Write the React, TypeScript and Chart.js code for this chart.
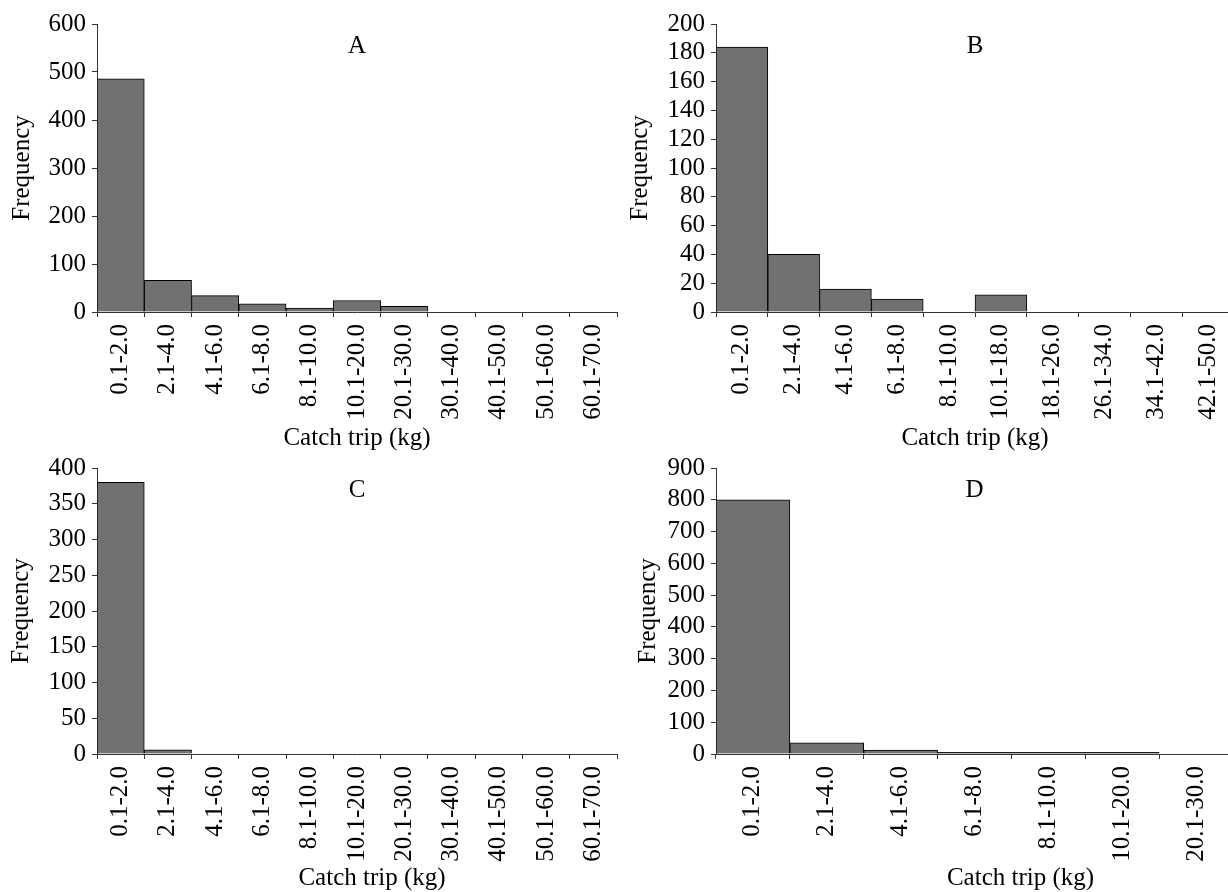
import React, { useEffect, useRef } from 'react';
import { Chart, registerables } from 'chart.js';

Chart.register(...registerables);

// ---------- data ----------
const labelsA = ['0.1-2.0', '2.1-4.0', '4.1-6.0', '6.1-8.0', '8.1-10.0', '10.1-20.0', '20.1-30.0', '30.1-40.0', '40.1-50.0', '50.1-60.0', '60.1-70.0'];
const valuesA = [486, 66, 34, 17, 8, 24, 12, 0, 0, 0, 0];

const labelsB = ['0.1-2.0', '2.1-4.0', '4.1-6.0', '6.1-8.0', '8.1-10.0', '10.1-18.0', '18.1-26.0', '26.1-34.0', '34.1-42.0', '42.1-50.0'];
const valuesB = [184, 40, 16, 9, 0, 12, 0, 0, 0, 0];

const labelsC = ['0.1-2.0', '2.1-4.0', '4.1-6.0', '6.1-8.0', '8.1-10.0', '10.1-20.0', '20.1-30.0', '30.1-40.0', '40.1-50.0', '50.1-60.0', '60.1-70.0'];
const valuesC = [380, 6, 0, 0, 0, 0, 0, 0, 0, 0, 0];

const labelsD = ['0.1-2.0', '2.1-4.0', '4.1-6.0', '6.1-8.0', '8.1-10.0', '10.1-20.0', '20.1-30.0'];
const valuesD = [800, 35, 12, 5, 5, 5, 0];

const yMaxA = 600, yStepA = 100;
const yMaxB = 200, yStepB = 20;
const yMaxC = 400, yStepC = 50;
const yMaxD = 900, yStepD = 100;

const panelLetters = ['A', 'B', 'C', 'D'];
const xTitle = 'Catch trip (kg)';
const yTitle = 'Frequency';

// ---------- styling ----------
const FONT = '"Liberation Serif", "Times New Roman", Times, serif';
const FS = 25;
const AXIS = '#333333';
const BAR = '#717174';

const panelTextPlugin = {
  id: 'panelText',
  afterDraw(chart: any, _args: any, opts: any) {
    const { ctx, chartArea } = chart;
    ctx.save();
    ctx.fillStyle = '#000';
    ctx.font = `${FS}px ${FONT}`;
    ctx.textAlign = 'center';
    ctx.textBaseline = 'middle';
    const cx = (chartArea.left + chartArea.right) / 2;
    ctx.fillText(opts.letter, cx, opts.letterY);
    ctx.fillText(opts.xTitle, cx + opts.xTitleDx, opts.xTitleY);
    ctx.restore();
  },
};

type PanelProps = {
  left: number; top: number; width: number; height: number;
  labels: string[]; values: number[]; yMax: number; yStep: number;
  area: { left: number; right: number; top: number; bottom: number };
  yTitlePad: number; letter: string; letterY: number; xTitleY: number; xTitleDx: number;
};

function Panel(p: PanelProps) {
  const ref = useRef<HTMLCanvasElement | null>(null);
  useEffect(() => {
    if (!ref.current) return;
    const chart = new Chart(ref.current, {
      type: 'bar',
      data: {
        labels: p.labels,
        datasets: [{
          data: p.values,
          backgroundColor: BAR,
          borderColor: '#000',
          borderWidth: 1,
          barPercentage: 1,
          categoryPercentage: 1,
        }],
      },
      options: {
        animation: false,
        responsive: false,
        devicePixelRatio: 1,
        layout: { padding: { top: p.area.top, right: p.width - p.area.right, bottom: 0, left: 0 } },
        plugins: {
          legend: { display: false },
          tooltip: { enabled: false },
          panelText: { letter: p.letter, letterY: p.letterY, xTitle, xTitleY: p.xTitleY, xTitleDx: p.xTitleDx },
        } as any,
        scales: {
          x: {
            type: 'category',
            offset: true,
            grid: { display: true, drawOnChartArea: false, drawTicks: true, tickLength: 5, color: AXIS, offset: true },
            border: { display: true, color: AXIS, width: 1 },
            ticks: { autoSkip: false, maxRotation: 90, minRotation: 90, padding: 7, color: '#000', font: { family: FONT, size: FS } },
            afterFit: (s: any) => { s.height = p.height - p.area.bottom; },
          },
          y: {
            min: 0,
            max: p.yMax,
            grid: { display: true, drawOnChartArea: false, drawTicks: true, tickLength: 5, color: AXIS },
            border: { display: true, color: AXIS, width: 1 },
            ticks: { stepSize: p.yStep, maxTicksLimit: 30, autoSkip: false, padding: 6, color: '#000', font: { family: FONT, size: FS, lineHeight: 0.9 } },
            title: { display: true, text: yTitle, color: '#000', font: { family: FONT, size: FS, lineHeight: 1.2 }, padding: { top: p.yTitlePad, bottom: 0 } },
            afterFit: (s: any) => { s.width = p.area.left; },
          },
        },
      } as any,
      plugins: [panelTextPlugin],
    });
    return () => chart.destroy();
  }, []);
  return (
    <canvas
      ref={ref}
      width={p.width}
      height={p.height}
      style={{ position: 'absolute', left: p.left, top: p.top, width: p.width, height: p.height }}
    />
  );
}

export default function App() {
  return (
    <div style={{ position: 'absolute', left: 0, top: 0, width: 1228, height: 892, overflow: 'hidden', background: '#fff' }}>
      <Panel left={0} top={0} width={640} height={460} labels={labelsA} values={valuesA} yMax={yMaxA} yStep={yStepA}
        area={{ left: 97, right: 617, top: 24, bottom: 312 }} yTitlePad={7} letter={panelLetters[0]} letterY={46} xTitleY={438} xTitleDx={0} />
      <Panel left={610} top={0} width={640} height={460} labels={labelsB} values={valuesB} yMax={yMaxB} yStep={yStepB}
        area={{ left: 106, right: 624, top: 24, bottom: 312 }} yTitlePad={15} letter={panelLetters[1]} letterY={46} xTitleY={438} xTitleDx={0} />
      <Panel left={0} top={440} width={640} height={452} labels={labelsC} values={valuesC} yMax={yMaxC} yStep={yStepC}
        area={{ left: 97, right: 617, top: 28, bottom: 314 }} yTitlePad={6} letter={panelLetters[2]} letterY={50} xTitleY={438} xTitleDx={15} />
      <Panel left={610} top={440} width={640} height={452} labels={labelsD} values={valuesD} yMax={yMaxD} yStep={yStepD}
        area={{ left: 106, right: 623, top: 28, bottom: 314 }} yTitlePad={23} letter={panelLetters[3]} letterY={50} xTitleY={438} xTitleDx={46} />
    </div>
  );
}
